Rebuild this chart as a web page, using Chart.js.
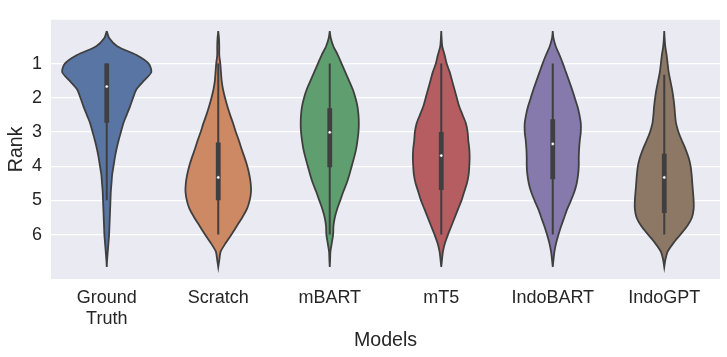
<!DOCTYPE html>
<html lang="en">
<head>
  <meta charset="UTF-8" />
  <title>Rank by model</title>
  <style>
    html, body { margin: 0; padding: 0; background: #fff; }
  </style>
</head>
<body>
  <canvas id="rankChart" width="727" height="357"></canvas>

  <script src="https://cdn.jsdelivr.net/npm/chart.js"></script>
  <script>
    // categories and axis ticks
    const models = [['Ground', 'Truth'], 'Scratch', 'mBART', 'mT5', 'IndoBART', 'IndoGPT'];
    const rankTicks = [1, 2, 3, 4, 5, 6];

    // rank levels where the violin outlines were read
    const rankLevels = [0.05, 0.25, 0.5, 0.75, 1, 1.25, 1.5, 1.75, 2, 2.25, 2.5, 2.75, 3, 3.25,
      3.5, 3.75, 4, 4.25, 4.5, 4.75, 5, 5.25, 5.5, 5.75, 6, 6.25, 6.5, 6.75, 6.95];

    // relative density (violin half width) at each rank level
    const densGroundTruth = [0, 7, 32, 88, 124, 132, 110, 88, 78, 69, 59, 49, 42, 35, 29, 24, 20, 16, 14, 12, 11, 10, 9, 8, 7, 5, 3, 1, 0];
    const densScratch     = [0, 2, 3, 3, 6, 8, 10, 14, 20, 27, 35, 44, 52, 61, 69, 78, 86, 92, 96, 97, 93, 85, 71, 55, 39, 22, 7, 3, 0];
    const densMBART       = [0, 3, 11, 24, 35, 46, 57, 68, 76, 82, 85, 86, 85, 82, 78, 72, 65, 58, 50, 40, 31, 22, 15, 11, 10, 6, 2, 1, 0];
    const densMT5         = [0, 1, 3, 10, 16, 25, 32, 39, 46, 53, 63, 73, 78, 80, 83, 84, 83, 81, 76, 68, 60, 50, 40, 30, 20, 11, 5, 2, 0];
    const densIndoBART    = [0, 2, 9, 20, 30, 39, 48, 57, 65, 73, 79, 83, 83, 80, 78, 77, 77, 75, 71, 64, 54, 43, 34, 25, 17, 10, 5, 2, 0];
    const densIndoGPT     = [0, 1, 3, 7, 10, 13, 18, 23, 27, 30, 32, 35, 42, 52, 63, 72, 78, 81, 83, 85, 87, 87, 82, 68, 48, 27, 10, 3, 0];

    // inner box: whiskers, quartiles, median
    const whiskerLow  = [1, 1, 1, 1, 1, 1.33];
    const quartile1   = [1, 3.31, 2.31, 3, 2.63, 3.64];
    const medians     = [1.67, 4.33, 3.01, 3.69, 3.35, 4.33];
    const quartile3   = [2.73, 5, 4.03, 4.7, 4.38, 5.37];
    const whiskerHigh = [5, 6, 6, 6, 6, 6];

    const densities = [densGroundTruth, densScratch, densMBART, densMT5, densIndoBART, densIndoGPT];
    const fills = ['#5875a4', '#cc8963', '#5f9e6e', '#b55d60', '#857aab', '#8d7866'];
    const edge = '#3f3f3f';
    const textColor = '#262626';
    const fontFamily = '"Liberation Sans", Arial, sans-serif';

    // widest violin gets half width 0.4 (seaborn width=0.8)
    const maxDens = Math.max(...densities.flat());
    const halfWidth = d => d * 0.4 / maxDens;

    const datasets = [];
    densities.forEach((dens, i) => {
      const left = rankLevels.map((r, k) => ({ x: i - halfWidth(dens[k]), y: r }));
      const right = rankLevels.map((r, k) => ({ x: i + halfWidth(dens[k]), y: r })).reverse();
      datasets.push({
        data: left.concat(right),
        showLine: true,
        fill: 'shape',
        backgroundColor: fills[i],
        borderColor: edge,
        borderWidth: 1.8,
        tension: 0.25,
        pointRadius: 0,
        order: 3
      });
      datasets.push({
        data: [{ x: i, y: whiskerLow[i] }, { x: i, y: whiskerHigh[i] }],
        showLine: true,
        borderColor: edge,
        borderWidth: 2,
        pointRadius: 0,
        order: 2
      });
      datasets.push({
        data: [{ x: i, y: quartile1[i] }, { x: i, y: quartile3[i] }],
        showLine: true,
        borderColor: edge,
        borderWidth: 4.8,
        borderCapStyle: 'butt',
        pointRadius: 0,
        order: 1
      });
    });
    datasets.push({
      data: medians.map((m, i) => ({ x: i, y: m })),
      showLine: false,
      pointRadius: 1.6,
      pointBackgroundColor: '#ffffff',
      pointBorderColor: edge,
      pointBorderWidth: 0.5,
      order: 0
    });

    const plotBackground = {
      id: 'plotBackground',
      beforeDraw(chart) {
        const { ctx, chartArea: a } = chart;
        ctx.save();
        ctx.fillStyle = '#eaeaf2';
        ctx.fillRect(a.left, a.top, a.right - a.left, a.bottom - a.top);
        ctx.restore();
      }
    };

    new Chart(document.getElementById('rankChart'), {
      type: 'scatter',
      data: { datasets },
      plugins: [plotBackground],
      options: {
        responsive: false,
        animation: false,
        events: [],
        layout: { padding: { top: 8, right: 7, left: 0, bottom: 0 } },
        plugins: { legend: { display: false }, tooltip: { enabled: false } },
        scales: {
          x: {
            type: 'linear',
            min: -0.5,
            max: 5.5,
            afterBuildTicks: s => { s.ticks = models.map((m, i) => ({ value: i })); },
            afterFit: s => { s.height = 78; },
            grid: { display: false },
            border: { display: false },
            ticks: {
              callback: v => models[v],
              padding: 0.5,
              maxRotation: 0,
              autoSkip: false,
              color: textColor,
              font: { family: fontFamily, size: 18, lineHeight: 1.18 }
            },
            title: {
              display: true,
              text: 'Models',
              color: textColor,
              padding: { top: 0, bottom: 5 },
              font: { family: fontFamily, size: 19.6, lineHeight: 1.2 }
            }
          },
          y: {
            reverse: true,
            min: -0.28,
            max: 7.3,
            afterBuildTicks: s => { s.ticks = rankTicks.map(v => ({ value: v })); },
            afterFit: s => { s.width = 51; },
            grid: { color: '#ffffff', lineWidth: 1.2, drawTicks: false },
            border: { display: false },
            ticks: {
              padding: 9,
              color: textColor,
              font: { family: fontFamily, size: 18 }
            },
            title: {
              display: true,
              text: 'Rank',
              color: textColor,
              padding: { top: 4.5, bottom: 0 },
              font: { family: fontFamily, size: 19.6, lineHeight: 1.2 }
            }
          }
        }
      }
    });
  </script>
</body>
</html>
